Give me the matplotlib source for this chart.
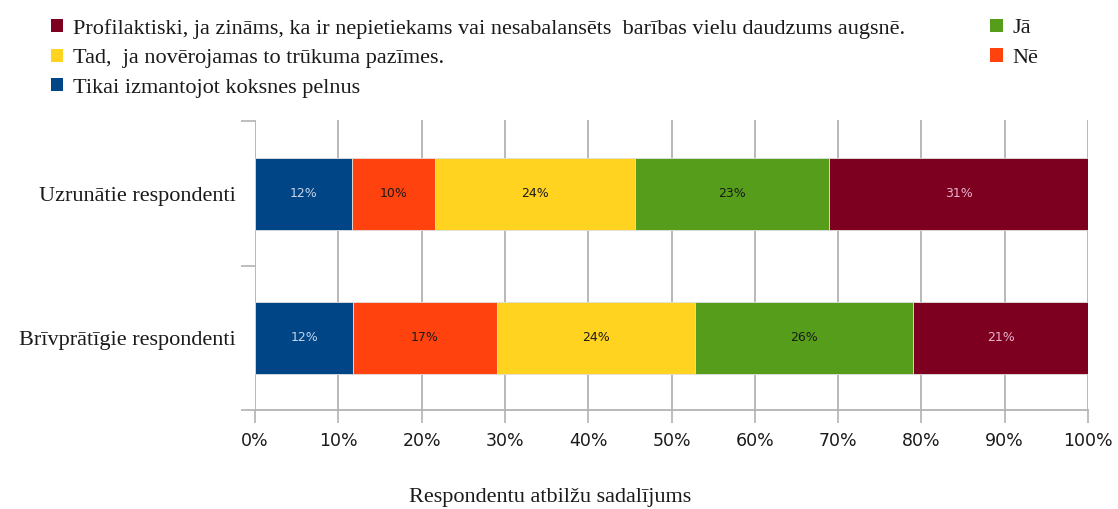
import matplotlib
matplotlib.use("Agg")
import matplotlib.pyplot as plt
from matplotlib.patches import Patch
import numpy as np

categories = ["Brīvprātīgie respondenti", "Uzrunātie respondenti"]
series_names = ["Tikai izmantojot koksnes pelnus", "Nē",
                "Tad,  ja novērojamas to trūkuma pazīmes.", "Jā",
                "Profilaktiski, ja zināms, ka ir nepietiekams vai nesabalansēts  barības vielu daudzums augsnē."]
# values per series: [Brīvprātīgie, Uzrunātie]
tikai = [11.8, 11.6]
ne = [17.2, 10.0]
tad = [23.8, 24.0]
ja = [26.2, 23.3]
profil = [21.0, 31.1]
series_values = [tikai, ne, tad, ja, profil]
colors = ["#004586", "#ff420e", "#ffd320", "#579d1c", "#7e0021"]
label_colors = ["#c8d4e8", "#1a1a1a", "#1a1a1a", "#1a1a1a", "#e8b4cc"]
xticks = [0, 10, 20, 30, 40, 50, 60, 70, 80, 90, 100]
xlabel = "Respondentu atbilžu sadalījums"

serif = ["Liberation Serif", "DejaVu Serif"]
narrow = ["DejaVu Sans"]

fig = plt.figure(figsize=(11.18, 5.09), dpi=100)
ax = fig.add_axes([255/1118, 1-410/509, (1088-255)/1118, 290/509])

y = np.arange(len(categories))
left = np.zeros(len(categories))
for vals, c, lc, name in zip(series_values, colors, label_colors, series_names):
    ax.barh(y, vals, left=left, height=0.5, color=c, edgecolor="#e0e0e0",
            linewidth=0.6, label=name, zorder=3)
    for yi, (l, v) in enumerate(zip(left, vals)):
        ax.text(l + v/2, yi, f"{round(v):d}%", ha="center", va="center",
                color=lc, fontsize=9, family=narrow, zorder=4)
    left = left + np.array(vals)

ax.set_xlim(0, 100)
ax.set_ylim(-0.49, 1.51)
ax.set_xticks(xticks)
ax.set_xticklabels([f"{t}%" for t in xticks], family=narrow, fontsize=12.5, color="#1a1a1a")
ax.set_yticks(y)
ax.set_yticklabels(categories, family=serif, fontsize=16, color="#1a1a1a")
ax.set_yticks([-0.5, 0.5, 1.5], minor=True)
ax.tick_params(axis="y", which="major", length=0, pad=14)
ax.tick_params(axis="y", which="minor", length=10, color="#b3b3b3", width=1.2)
ax.tick_params(axis="x", length=9, color="#b3b3b3", width=1.2, pad=7)
ax.grid(axis="x", color="#b3b3b3", linewidth=1.3, zorder=0)
for s in ["top", "right", "left"]:
    ax.spines[s].set_visible(False)
ax.spines["bottom"].set_color("#b3b3b3")
ax.spines["bottom"].set_linewidth(1.3)
ax.set_xlabel(xlabel, family=serif, fontsize=16, color="#1a1a1a")
ax.xaxis.set_label_coords(0.354, -0.27)

def make_legend(idx, x):
    handles = [Patch(facecolor=colors[i], edgecolor="none") for i in idx]
    labels = [series_names[i] for i in idx]
    return fig.legend(handles, labels, loc="upper left", bbox_to_anchor=(x, 0.994),
                      ncol=1, frameon=False, prop={"family": serif, "size": 16},
                      handlelength=0.55, handleheight=0.55, handletextpad=0.45,
                      labelspacing=0.45, labelcolor="#1a1a1a", borderaxespad=0.3)

make_legend([4, 2, 0], 0.0316)
make_legend([3, 1], 0.872)

fig.savefig("out.png", dpi=100)
